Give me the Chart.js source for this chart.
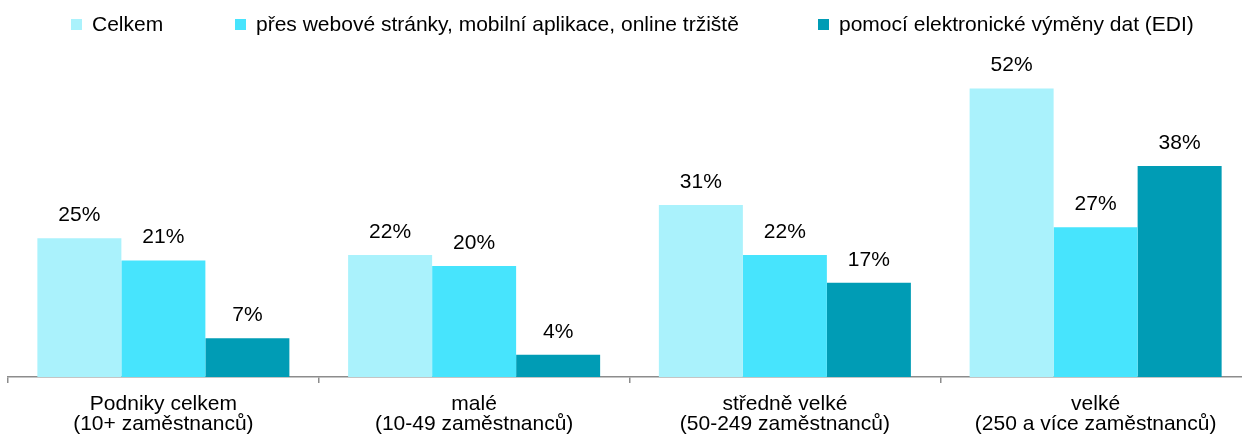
<!DOCTYPE html>
<html>
<head>
<meta charset="utf-8">
<script src="https://cdn.jsdelivr.net/npm/chart.js@4"></script>
<style>
  html, body { margin: 0; padding: 0; background: #fff; overflow: hidden; }
  #wrap { position: relative; width: 1251px; height: 436px; }
  #legend { position: absolute; left: 0; top: 12px; width: 1251px; height: 30px;
            font: 21px "Liberation Sans", Arial, sans-serif; color: #000; }
  #legend .item { position: absolute; top: 0; display: flex; align-items: center; white-space: nowrap; }
  #legend .box { width: 11px; height: 11px; margin-right: 10px; }
</style>
</head>
<body>
<div id="wrap">
  <canvas id="chart" width="1251" height="436"></canvas>
  <div id="legend"></div>
</div>
<script>
// categories (two-line labels)
const categories = [
  ['Podniky celkem', '(10+ zaměstnanců)'],
  ['malé', '(10-49 zaměstnanců)'],
  ['středně velké', '(50-249 zaměstnanců)'],
  ['velké', '(250 a více zaměstnanců)']
];
const seriesNames = [
  'Celkem',
  'přes webové stránky, mobilní aplikace, online tržiště',
  'pomocí elektronické výměny dat (EDI)'
];
const celkem = [25, 22, 31, 52];
const webove = [21, 20, 22, 27];
const edi = [7, 4, 17, 38];
const colors = ['#aaf2fc', '#47e4fd', '#009cb5'];
const legendLeft = [71, 235, 818];

const FONT = '"Liberation Sans", Arial, sans-serif';

// value labels above the bars
const valueLabels = {
  id: 'valueLabels',
  afterDatasetsDraw(chart) {
    const ctx = chart.ctx;
    ctx.save();
    ctx.font = '21px ' + FONT;
    ctx.fillStyle = '#000';
    ctx.textAlign = 'center';
    ctx.textBaseline = 'alphabetic';
    chart.data.datasets.forEach((ds, i) => {
      chart.getDatasetMeta(i).data.forEach((bar, j) => {
        ctx.fillText(ds.data[j] + '%', bar.x, bar.y - 17);
      });
    });
    ctx.restore();
  }
};

const seriesData = [celkem, webove, edi];

new Chart(document.getElementById('chart'), {
  type: 'bar',
  data: {
    labels: categories,
    datasets: seriesNames.map((name, i) => ({
      label: name,
      data: seriesData[i],
      backgroundColor: colors[i],
      borderWidth: 0,
      categoryPercentage: 0.811,
      barPercentage: 1
    }))
  },
  options: {
    responsive: false,
    animation: false,
    layout: { padding: { left: 8, right: 0, top: 44, bottom: 0 } },
    plugins: { legend: { display: false }, tooltip: { enabled: false } },
    scales: {
      x: {
        offset: true,
        grid: { display: true, drawOnChartArea: false, drawTicks: true, tickLength: 6, color: '#8c8c8c', lineWidth: 1.5, offset: true },
        border: { display: true, color: '#8c8c8c', width: 1.5 },
        ticks: { color: '#000', font: { family: FONT, size: 21, lineHeight: 0.952 }, padding: 11, maxRotation: 0, autoSkip: false },
        afterFit(scale) { scale.height = 59; }
      },
      y: {
        display: false,
        min: 0,
        max: 60
      }
    }
  },
  plugins: [valueLabels]
});

// html legend
const legend = document.getElementById('legend');
seriesNames.forEach((name, i) => {
  const item = document.createElement('div');
  item.className = 'item';
  item.style.left = legendLeft[i] + 'px';
  const box = document.createElement('span');
  box.className = 'box';
  box.style.background = colors[i];
  item.appendChild(box);
  item.appendChild(document.createTextNode(name));
  legend.appendChild(item);
});
</script>
</body>
</html>
